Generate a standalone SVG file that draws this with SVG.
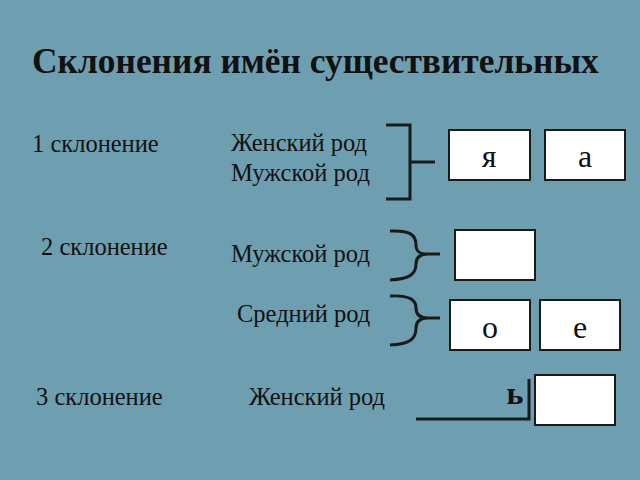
<svg xmlns="http://www.w3.org/2000/svg" width="640" height="480" viewBox="0 0 640 480">
<style>
.t{font-family:"Liberation Serif","Times New Roman",serif;fill:#111;}
.lbl{font-size:24.5px;}
.box{fill:#fff;stroke:#1a1a1a;stroke-width:2;}
.let{font-family:"Liberation Serif","Times New Roman",serif;font-size:32px;fill:#111;text-anchor:middle;}
.br{fill:none;stroke:#1a1a1a;stroke-width:3;}
</style>
<rect width="640" height="480" fill="#6e9fb1"/>
<text class="t" x="32" y="73" font-size="35.4" font-weight="bold">Склонения имён существительных</text>
<g id="labels">
<text class="t lbl" x="32" y="152">1 склонение</text>
<text class="t lbl" x="231" y="151">Женский род</text>
<text class="t lbl" x="231" y="181">Мужской род</text>
<text class="t lbl" x="41" y="255">2 склонение</text>
<text class="t lbl" x="231" y="262">Мужской род</text>
<text class="t lbl" x="237" y="322">Средний род</text>
<text class="t lbl" x="36" y="405">3 склонение</text>
<text class="t lbl" x="249" y="405">Женский род</text>
</g>
<g id="connectors">
<path class="br" d="M386,125 H410 V199 H386 M410,162 H435"/>
<path class="br" d="M390,231 C410,230 416,235 416,245 C416,252 420,254 428,254 H440 M428,254 C420,254 416,257 416,264 C416,274 410,279 390,280"/>
<path class="br" d="M390,296 C410,295 416,300 416,308 C416,315 420,318 428,318 H440 M428,318 C420,318 416,321 416,328 C416,339 410,344 390,345"/>
<path class="br" d="M416,419 H529 V379"/>
</g>
<g id="box-ya"><rect class="box" x="449" y="130" width="81" height="50"/><text class="let" x="489" y="167">я</text></g>
<g id="box-a"><rect class="box" x="545" y="130" width="80" height="50"/><text class="let" x="585" y="167">а</text></g>
<g id="box-empty"><rect class="box" x="455" y="230" width="80" height="50"/></g>
<g id="box-o"><rect class="box" x="450" y="300" width="80" height="50"/><text class="let" x="490" y="338">о</text></g>
<g id="box-e"><rect class="box" x="540" y="300" width="80" height="50"/><text class="let" x="580" y="338">е</text></g>
<g id="soft"><text class="let" x="515" y="404" font-weight="bold" font-size="30">ь</text></g>
<g id="box-3"><rect class="box" x="535" y="375" width="80" height="50"/></g>
</svg>
